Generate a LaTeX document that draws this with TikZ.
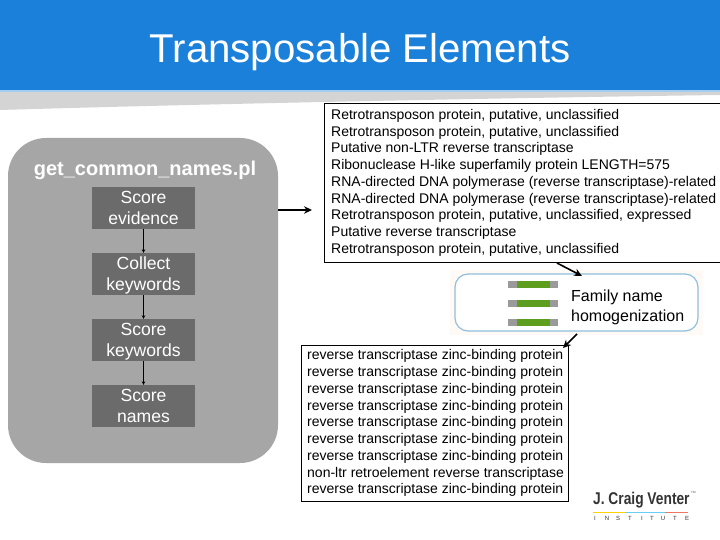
\documentclass[tikz,border=0pt]{standalone}
\usepackage{fontspec}
\setmainfont{Liberation Sans}
\usetikzlibrary{arrows.meta}
\definecolor{hdr}{HTML}{1A80D9}
\definecolor{swoosh}{HTML}{D4D4D4}
\definecolor{panel}{HTML}{A6A6A6}
\definecolor{stepfill}{HTML}{6B6B6B}
\definecolor{barg}{HTML}{5E9E1E}
\definecolor{bargr}{HTML}{9A9A9A}
\definecolor{fameedge}{HTML}{8FBFDC}
\tikzset{
 stepbox/.style={draw=none,fill=stepfill,text=white,minimum width=103pt,minimum height=42pt,inner sep=0pt,align=center,font=\fontsize{17.6}{21.5}\selectfont},
 listbox/.style={draw=black,line width=0.8pt,fill=white,inner sep=0pt,anchor=north west},
 listtxt/.style={inner sep=0pt,anchor=north west,align=left,font=\fontsize{14}{16.75}\selectfont},
 flow/.style={-{Stealth[length=3.5pt,width=3.5pt]},line width=0.7pt,black},
 bigarrow/.style={-{Stealth[length=8pt,width=7.5pt]},line width=1.6pt,black},
 bar/.style={draw=none,inner sep=0pt,minimum height=7pt}
}
\begin{document}
\begin{tikzpicture}[x=1pt,y=-1pt]
\useasboundingbox (0,0) rectangle (720,540);
\fill[white] (0,0) rectangle (720,540);
\fill[swoosh] (0,90) -- (720,90) -- (720,95) .. controls (500,98) and (200,104) .. (0,110) -- cycle;
\fill[hdr] (0,0) rectangle (720,90);
\fill[hdr!40] (0,90) rectangle (720,92);
\node[text=white,inner sep=0pt,font=\fontsize{40.2}{42}\selectfont] (title) at (360,52) {Transposable Elements};
% left panel
\node[fill=panel,draw=none,rounded corners=38pt,minimum width=270pt,minimum height=325pt,inner sep=0pt] (panel) at (143,300.5) {};
\node[text=white,inner sep=0pt,font=\bfseries\fontsize{20}{22}\selectfont] (script) at (145,170) {get\_common\_names.pl};
\node[stepbox] (s1) at (143.5,208) {Score\\evidence};
\node[stepbox] (s2) at (143.5,274) {\rule{0pt}{16pt}Collect\\keywords};
\node[stepbox] (s3) at (143.5,340) {\rule{0pt}{16pt}Score\\keywords};
\node[stepbox] (s4) at (143.5,406) {Score\\names};
\draw[flow] (s1) -- (s2);
\draw[flow] (s2) -- (s3);
\draw[flow] (s3) -- (s4);
% top list
\node[listbox,minimum width=396pt,minimum height=159pt] (top) at (324,103) {};
\node[listtxt] (toptxt) at (331,109) {Retrotransposon protein, putative, unclassified\\
Retrotransposon protein, putative, unclassified\\
Putative non-LTR reverse transcriptase\\
Ribonuclease H-like superfamily protein LENGTH=575\\
RNA-directed DNA polymerase (reverse transcriptase)-related\\
RNA-directed DNA polymerase (reverse transcriptase)-related\\
Retrotransposon protein, putative, unclassified, expressed\\
Putative reverse transcriptase\\
Retrotransposon protein, putative, unclassified};
\coordinate (pout) at (278,210);
\coordinate (tin) at (312,210);
\draw[bigarrow] (pout) -- (tin);
% family panel
\fill[orange!4] (450,270) rectangle (703,335);
\node[draw=fameedge,line width=1.2pt,fill=white,rounded corners=13pt,minimum width=243pt,minimum height=57pt,inner sep=0pt] (fam) at (576.5,302.5) {};
\foreach \i/\y in {a/284.5,b/303.5,c/322.5}{
 \node[bar,fill=barg,minimum width=50pt] (bar\i) at (533,\y) {};
 \node[bar,fill=bargr,minimum width=9pt] at (512.5,\y) {};
 \node[bar,fill=bargr,minimum width=8pt] at (554,\y) {};
}
\node[inner sep=0pt,anchor=north west,align=left,font=\fontsize{16}{20}\selectfont] (famtxt) at (571,289.5) {Family name\\homogenization};
% bottom list
\node[listbox,minimum width=267pt,minimum height=156pt] (bot) at (301,345) {};
\node[listtxt] (bottxt) at (307,349.5) {reverse transcriptase zinc-binding protein\\
reverse transcriptase zinc-binding protein\\
reverse transcriptase zinc-binding protein\\
reverse transcriptase zinc-binding protein\\
reverse transcriptase zinc-binding protein\\
reverse transcriptase zinc-binding protein\\
reverse transcriptase zinc-binding protein\\
non-ltr retroelement reverse transcriptase\\
reverse transcriptase zinc-binding protein};
\coordinate (a1) at (557,263);
\coordinate (a2) at (582,276);
\coordinate (b1) at (577,334);
\coordinate (b2) at (563,348);
\draw[bigarrow] (a1) -- (a2);
\draw[bigarrow] (b1) -- (b2);
% logo
\node[inner sep=0pt,text=black!80,anchor=west,xscale=0.81,font=\bfseries\fontsize{17}{18}\selectfont] (logo) at (593,500) {J. Craig Venter};
\node[inner sep=0pt,anchor=west,text=black!70,font=\fontsize{3}{4}\selectfont] (tm) at (691,492) {TM};
\draw[yellow!70!orange,line width=1pt] (593,512.5) -- (625,512.5);
\draw[cyan!60,line width=1pt] (625,512.5) -- (665,512.5);
\draw[red!50!brown!70,line width=1pt] (665,512.5) -- (688,512.5);
\foreach \c/\x in {I/595,N/607,S/618,T/630,I/642,T/652,U/663,T/675,E/687}{
 \node[inner sep=0pt,text=black!80,font=\fontsize{6}{7}\selectfont] at (\x,518) {\c};
}
\end{tikzpicture}
\end{document}
